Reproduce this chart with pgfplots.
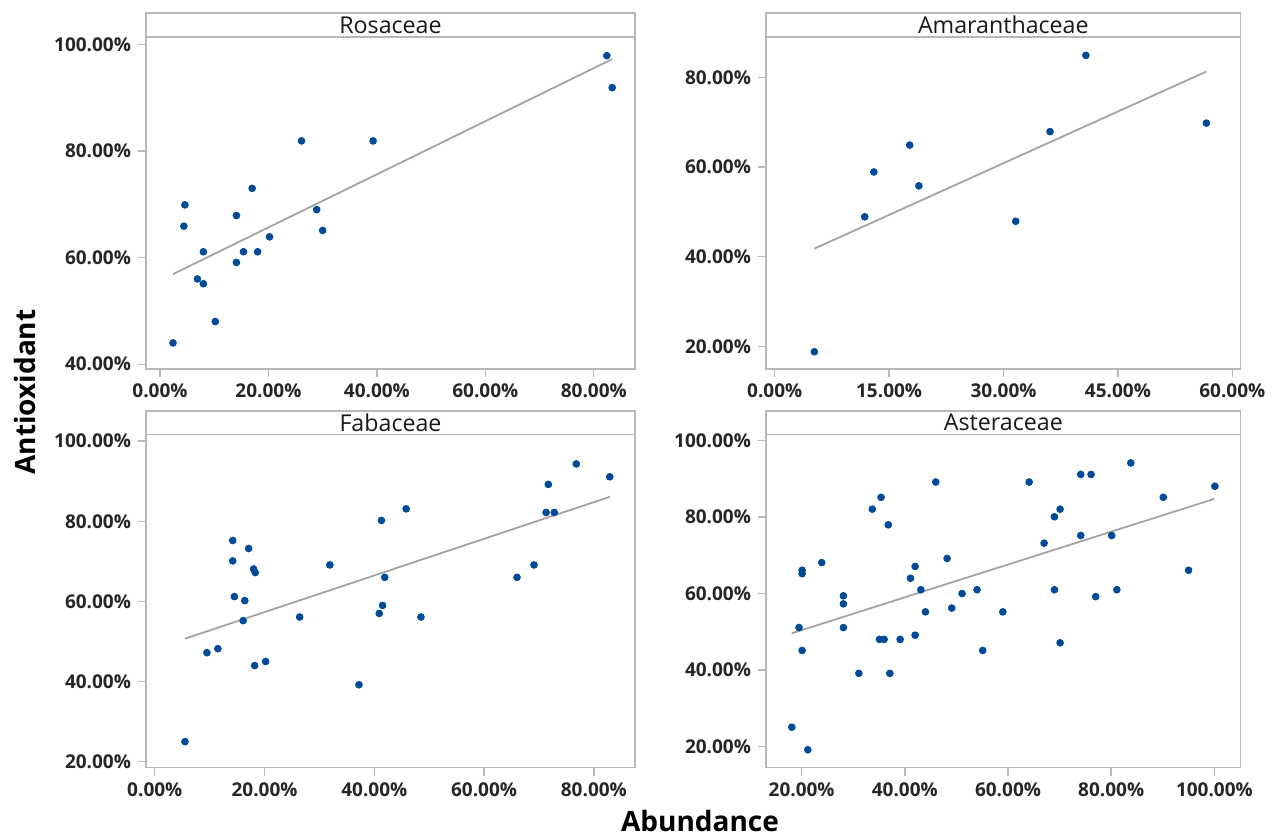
\documentclass[border=0pt]{standalone}
\usepackage{pgfplots}
\pgfplotsset{compat=1.18}
\usepackage{fontspec}
\setmainfont{Open Sans}
\definecolor{ptc}{HTML}{004A98}
\definecolor{frc}{HTML}{B8B8B8}
\definecolor{fitc}{HTML}{A3A3A3}
\pgfplotsset{
  panel/.style={
    scale only axis, anchor=south west, clip=false,
    axis line style={frc, line width=0.7pt},
    tick style={frc, line width=0.7pt},
    tick align=outside, major tick length=4pt,
    xtick pos=bottom, ytick pos=left,
    tick label style={font=\bfseries\fontsize{9.5}{11}\selectfont, text=black!85},
  },
  pts/.style={only marks, mark=*, mark size=1.7pt, color=ptc, mark options={draw=ptc, fill=ptc}},
  fitl/.style={fitc, line width=0.9pt, no marks},
}
\newcommand{\strip}[2]{%
  \draw[frc, line width=0.7pt] (rel axis cs:0,1) rectangle (rel axis cs:1,#1);
  \node[font=\fontsize{11.6}{13}\selectfont, inner sep=0pt, text=black!90] at (rel axis cs:0.5,{(1+#1)/2}) {#2};}
\begin{document}
\begin{tikzpicture}
\useasboundingbox (0,0) rectangle (642.5pt,418.5pt);
% Rosaceae
\begin{axis}[panel, at={(73pt,234pt)}, width=244.5pt, height=166pt,
  xmin=-2.58, xmax=87.6, ymin=39.1, ymax=101.4,
  xtick={0,20,40,60,80}, xticklabels={0.00\%,20.00\%,40.00\%,60.00\%,80.00\%},
  ytick={40,60,80,100}, yticklabels={40.00\%,60.00\%,80.00\%,100.00\%}]
\addplot[pts] coordinates {
(82.4,97.9) (83.4,91.9) (26.1,81.9) (39.3,81.9) (17.0,73.0) (4.6,69.9)
(4.4,65.9) (14.1,67.9) (28.9,69.0) (30.0,65.1) (20.2,63.9) (8.0,61.1)
(15.4,61.1) (18.0,61.1) (14.1,59.1) (6.9,56.0) (8.0,55.1) (10.2,48.0) (2.4,44.0)};
\addplot[fitl] coordinates {(2.4,56.9) (83.4,97.25)};
\strip{1.0723}{Rosaceae}
\end{axis}
% Amaranthaceae
\begin{axis}[panel, at={(383pt,234pt)}, width=237.35pt, height=166pt,
  xmin=-1.14, xmax=61.1, ymin=14.96, ymax=89.0,
  xtick={0,15,30,45,60}, xticklabels={0.00\%,15.00\%,30.00\%,45.00\%,60.00\%},
  ytick={20,40,60,80}, yticklabels={20.00\%,40.00\%,60.00\%,80.00\%}]
\addplot[pts] coordinates {
(40.8,84.9) (56.6,69.8) (36.1,67.9) (17.7,64.9) (13.0,58.9) (18.9,55.8)
(11.8,48.9) (31.6,47.9) (5.2,18.8)};
\addplot[fitl] coordinates {(5.2,41.8) (56.6,81.3)};
\strip{1.0723}{Amaranthaceae}
\end{axis}
% Fabaceae
\begin{axis}[panel, at={(73pt,34.65pt)}, width=244.5pt, height=166.7pt,
  xmin=-1.6, xmax=87.5, ymin=18.5, ymax=101.7,
  xtick={0,20,40,60,80}, xticklabels={0.00\%,20.00\%,40.00\%,60.00\%,80.00\%},
  ytick={20,40,60,80,100}, yticklabels={20.00\%,40.00\%,60.00\%,80.00\%,100.00\%}]
\addplot[pts] coordinates {
(76.8,94.3) (82.9,91.1) (71.7,89.2) (45.8,83.1) (41.3,80.2) (71.3,82.2)
(72.8,82.2) (14.2,75.2) (17.1,73.2) (14.2,70.1) (31.9,69.1) (69.1,69.1)
(18.0,68.1) (18.3,67.2) (41.9,66.0) (66.0,66.0) (14.5,61.2) (16.4,60.2)
(41.5,59.0) (40.9,57.0) (16.1,55.2) (26.4,56.1) (48.5,56.1) (9.5,47.2)
(11.5,48.2) (18.2,44.0) (20.2,45.0) (37.2,39.2) (5.5,25.0)};
\addplot[fitl] coordinates {(5.5,50.7) (82.9,86.1)};
\strip{1.07}{Fabaceae}
\end{axis}
% Asteraceae
\begin{axis}[panel, at={(383pt,34.65pt)}, width=237.35pt, height=166.7pt,
  xmin=13.1, xmax=105.1, ymin=14.4, ymax=101.7,
  xtick={20,40,60,80,100}, xticklabels={20.00\%,40.00\%,60.00\%,80.00\%,100.00\%},
  ytick={20,40,60,80,100}, yticklabels={20.00\%,40.00\%,60.00\%,80.00\%,100.00\%}]
\addplot[pts] coordinates {
(83.8,94.2) (74.1,91.2) (76.1,91.2) (46.0,89.2) (64.1,89.2) (100.1,88.1)
(35.4,85.2) (90.1,85.2) (33.7,82.1) (70.1,82.1) (69.0,80.1) (36.8,78.0)
(74.1,75.2) (80.1,75.2) (67.0,73.2) (23.9,68.1) (48.2,69.2) (42.0,67.1)
(20.1,66.1) (20.1,65.2) (41.1,64.0) (95.0,66.1) (43.1,61.0) (54.0,61.0)
(69.0,61.0) (81.1,61.0) (28.1,59.4) (77.0,59.2) (51.1,60.0) (28.1,57.3)
(49.1,56.2) (44.0,55.2) (59.0,55.2) (19.5,51.1) (28.1,51.1) (35.1,48.0)
(36.0,48.0) (39.1,48.0) (42.0,49.1) (70.1,47.1) (20.1,45.1) (55.1,45.1)
(31.1,39.1) (37.1,39.1) (18.1,25.0) (21.2,19.1)};
\addplot[fitl] coordinates {(18.1,49.6) (100.0,84.8)};
\strip{1.07}{Asteraceae}
\end{axis}
\node[rotate=90, inner sep=0pt, font=\bfseries\fontsize{14}{16}\selectfont] at (12.5pt,222.5pt) {Antioxidant};
\node[inner sep=0pt, font=\bfseries\fontsize{14}{16}\selectfont] at (350pt,7.8pt) {Abundance};
\end{tikzpicture}
\end{document}
